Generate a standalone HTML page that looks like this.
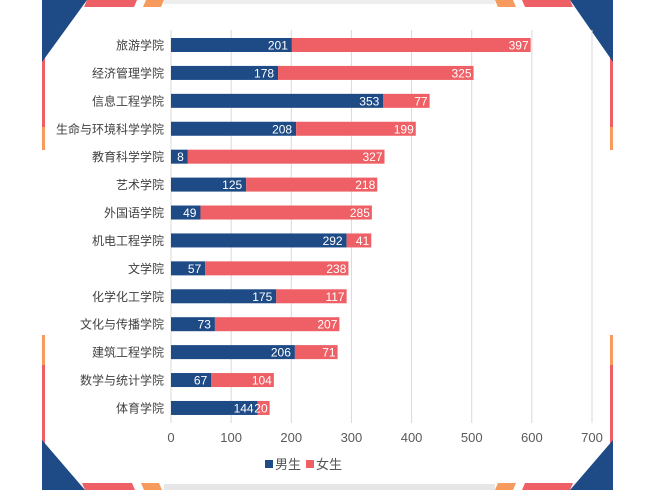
<!DOCTYPE html>
<html><head><meta charset="utf-8"><style>
html,body{margin:0;padding:0;background:#fff;}
svg{display:block;font-family:"Liberation Sans","Noto Sans CJK SC",sans-serif;}
</style></head><body>
<svg id="chart" width="663" height="490" viewBox="0 0 663 490">
<g>
<rect x="42" y="0" width="571" height="490" fill="#fff"/>
<rect x="42" y="0" width="3" height="490" fill="#ee6065"/>
<rect x="610" y="0" width="3" height="490" fill="#ee6065"/>
<rect x="42" y="150" width="3" height="185" fill="#fff"/>
<rect x="610" y="150" width="3" height="185" fill="#fff"/>
<rect x="42" y="127" width="3" height="23" fill="#f79a5e"/>
<rect x="610" y="127" width="3" height="23" fill="#f79a5e"/>
<rect x="42" y="335" width="3" height="30" fill="#f79a5e"/>
<rect x="610" y="335" width="3" height="30" fill="#f79a5e"/>
<polygon points="42,0 87,0 42,62" fill="#1e4a86"/>
<polygon points="87,0 137,0 134,7 84,7" fill="#ee6065"/>
<polygon points="146,0 164,0 161,7 143,7" fill="#f79a5e"/>
<polygon points="613,0 570,0 613,62" fill="#1e4a86"/>
<polygon points="570,0 522,0 525,7 573,7" fill="#ee6065"/>
<polygon points="513,0 495,0 498,7 516,7" fill="#f79a5e"/>
<polygon points="42,490 42,440 85,490" fill="#1e4a86"/>
<polygon points="85,490 135,490 132,483 82,483" fill="#ee6065"/>
<polygon points="144,490 162,490 159,483 141,483" fill="#f79a5e"/>
<polygon points="613,490 613,440 570,490" fill="#1e4a86"/>
<polygon points="570,490 522,490 525,483 573,483" fill="#ee6065"/>
<polygon points="513,490 495,490 498,483 516,483" fill="#f79a5e"/>
<rect x="164" y="484" width="331" height="6" fill="#e6e6e6"/>
<rect x="164" y="0" width="331" height="4" fill="#eee"/>
</g>
<g id="grid"></g>
<g id="bars"></g>
<g id="labels"></g>
<g id="ticks"></g>
<g>
<g><rect x="265" y="460" width="8" height="8" fill="#1e4a86"/><text x="275" y="469" font-size="13" fill="#555">男生</text></g>
<g><rect x="306" y="460" width="8" height="8" fill="#ee6065"/><text x="316" y="469" font-size="13" fill="#555">女生</text></g>
</g>
</svg>
<script>
const categories=["旅游学院","经济管理学院","信息工程学院","生命与环境科学学院","教育科学学院","艺术学院","外国语学院","机电工程学院","文学院","化学化工学院","文化与传播学院","建筑工程学院","数学与统计学院","体育学院"];
const male=[201,178,353,208,28,125,49,292,57,175,73,206,67,144];
const female=[397,325,77,199,327,218,285,41,238,117,207,71,104,20];
const maleLabels=["201","178","353","208","8","125","49","292","57","175","73","206","67","144"];
const tickValues=[0,100,200,300,400,500,600,700];
const NS="http://www.w3.org/2000/svg";
const x0=171,x1=592,maxV=700,yTop=45,yStep=27.92,bh=14;
function xs(v){return x0+v/maxV*(x1-x0);}
function ys(i){return yTop+i*yStep;}
function mk(t,a,p){const e=document.createElementNS(NS,t);for(const k in a)e.setAttribute(k,a[k]);p.appendChild(e);return e;}
const grid=document.getElementById('grid'),bars=document.getElementById('bars'),labels=document.getElementById('labels'),ticks=document.getElementById('ticks');
tickValues.forEach(v=>{
 const l=mk('line',{x1:xs(v),x2:xs(v),y1:30,y2:423,stroke:'#d9d9d9','stroke-width':1},grid);
 
 
 const t=mk('text',{x:xs(v),y:442,'text-anchor':'middle','font-size':13,fill:'#595959'},ticks);
 t.textContent=String(v);
 
 
});
categories.forEach((c,i)=>{
 const y=ys(i);
 const t=mk('text',{x:164,y:y+4.5,'text-anchor':'end','font-size':12,fill:'#404040'},labels);
 t.textContent=c;
 
 
 const m=mk('rect',{x:xs(0),y:y-bh/2,width:xs(male[i])-xs(0),height:bh,fill:'#1e4a86'},bars);
 
 
 const f=mk('rect',{x:xs(male[i]),y:y-bh/2,width:xs(male[i]+female[i])-xs(male[i]),height:bh,fill:'#ee6065'},bars);
 
 
 const mt=mk('text',{x:xs(male[i])-4,y:y+4.5,'text-anchor':'end','font-size':12,fill:'#fff'},bars);
 mt.textContent=maleLabels[i];
 
 
 const ft=mk('text',{x:xs(male[i]+female[i])-2,y:y+4.5,'text-anchor':'end','font-size':12,fill:'#fff'},bars);
 ft.textContent=String(female[i]);
 
 
});
</script>
</body></html>
